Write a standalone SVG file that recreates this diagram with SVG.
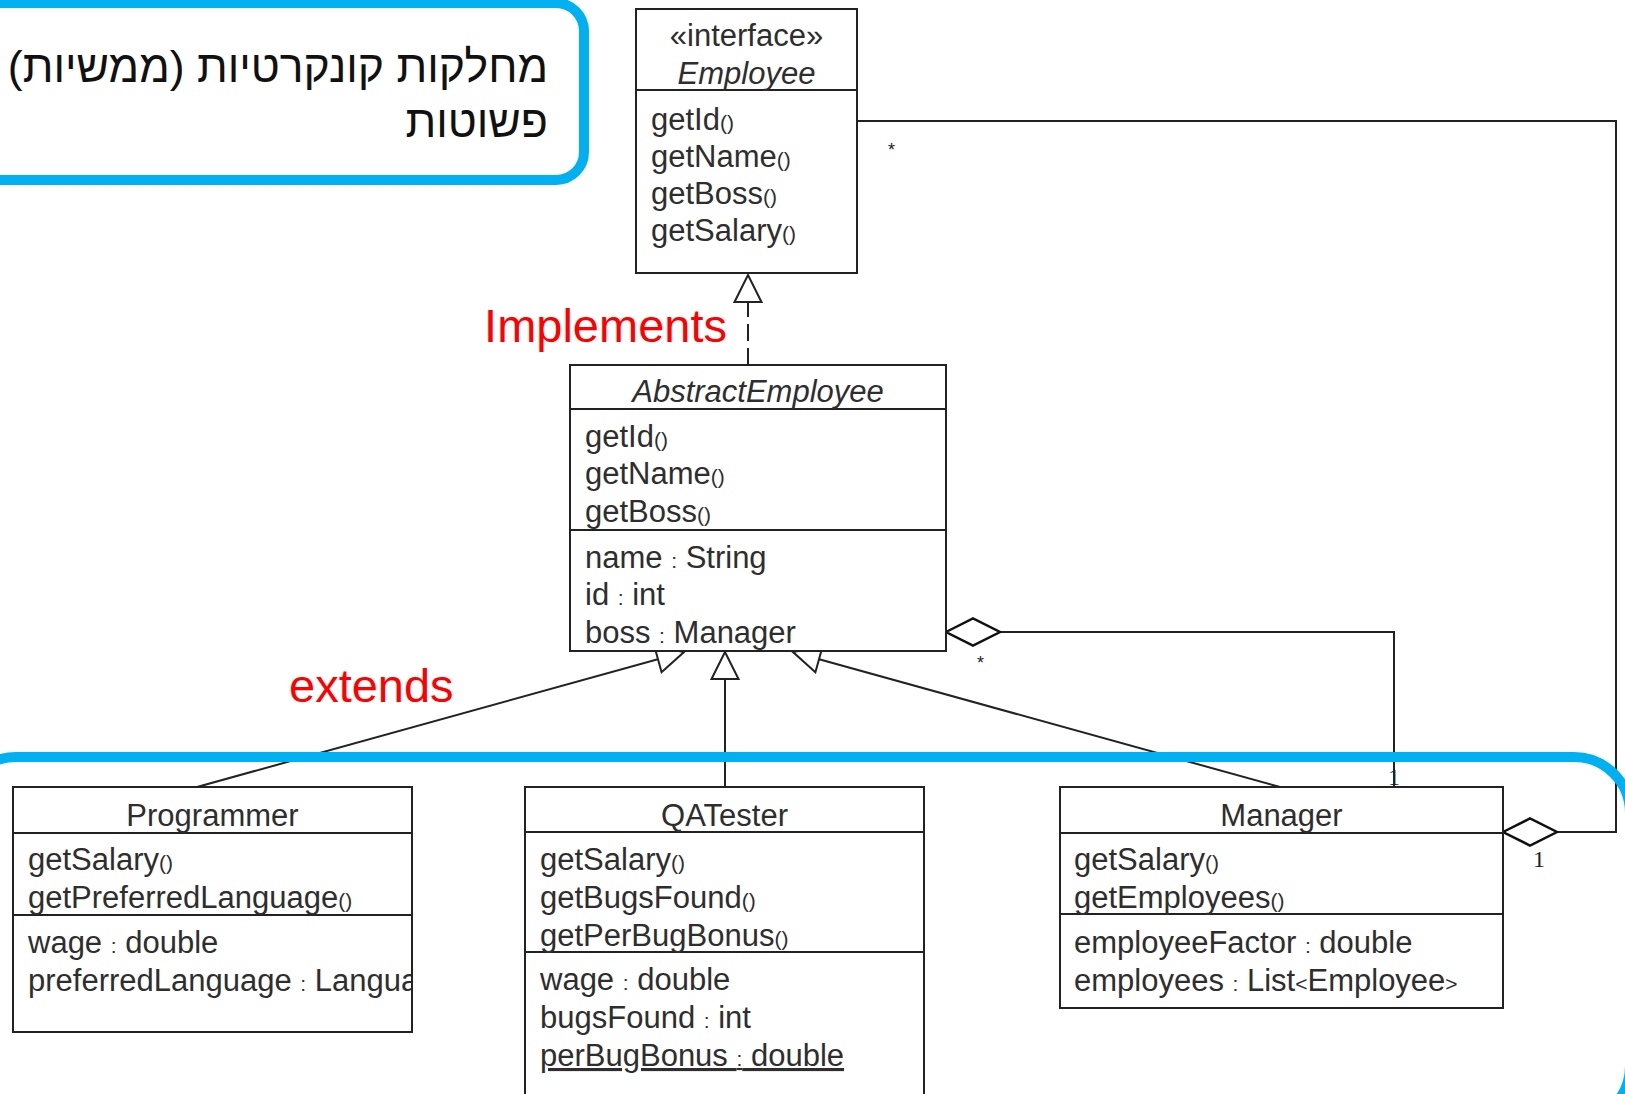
<svg xmlns="http://www.w3.org/2000/svg" width="1625" height="1094" viewBox="0 0 1625 1094">
<style>
  .box{fill:#fff;stroke:#222;stroke-width:2}
  .div{stroke:#222;stroke-width:2}
  .t{font-family:"Liberation Sans",Arial,sans-serif;font-size:31px;fill:#2e2e2e}
  .it{font-style:italic}
  .c{text-anchor:middle}
  .s{font-size:21px}
  .con{fill:none;stroke:#222;stroke-width:2}
  .red{font-family:"Liberation Sans",Arial,sans-serif;font-size:47px;fill:#ff0000}
  .blue{fill:none;stroke:#00B0F0;stroke-width:10}
  .heb{font-family:"Liberation Sans","DejaVu Sans",sans-serif;font-size:44.5px;fill:#111}
  .mult{font-family:"Liberation Serif",serif;font-size:24px;fill:#222}
  .star{font-family:"Liberation Sans",sans-serif;font-size:18px;fill:#222}
</style>
<defs>
  <marker id="tri" markerUnits="userSpaceOnUse" markerWidth="30" markerHeight="30" refX="27" refY="13.5" orient="auto" overflow="visible">
    <path d="M0,0 L27,13.5 L0,27 Z" fill="#fff" stroke="#222" stroke-width="2" stroke-dasharray="none"/>
  </marker>
  <marker id="dia" markerUnits="userSpaceOnUse" markerWidth="56" markerHeight="30" refX="0" refY="13.5" orient="auto" overflow="visible">
    <path d="M0,13.5 L27,0 L54,13.5 L27,27 Z" fill="#fff" stroke="#111" stroke-width="2.5"/>
  </marker>
  <clipPath id="clipProg"><rect x="13" y="787" width="398" height="245"/></clipPath>
</defs>

<g id="connectors">
  <path id="implements" class="con" d="M748,365 L748,275" stroke-dasharray="17,7" marker-end="url(#tri)"/>
  <path id="gen-programmer" class="con" d="M197,787 L684,652" marker-end="url(#tri)"/>
  <path id="gen-qatester" class="con" d="M725,787 L725,652" marker-end="url(#tri)"/>
  <path id="gen-manager" class="con" d="M1280,787 L793,652" marker-end="url(#tri)"/>
  <path id="assoc-boss" class="con" d="M946,632 L1394,632 L1394,787" marker-start="url(#dia)"/>
  <path id="assoc-employees" class="con" d="M1503,832 L1616,832 L1616,121 L857,121" marker-start="url(#dia)"/>
  <text class="star" x="888" y="156">*</text>
  <text class="star" x="977" y="669">*</text>
  <text class="mult" x="1394" y="785" text-anchor="middle">1</text>
  <text class="mult" x="1539" y="867" text-anchor="middle">1</text>
</g>

<g id="Employee">
  <rect class="box" x="636" y="9" width="221" height="264"/>
  <line class="div" x1="636" y1="90" x2="857" y2="90"/>
  <text class="t c" x="746.5" y="46">«interface»</text>
  <text class="t c it" x="746.5" y="84">Employee</text>
  <text class="t" x="651" y="130">getId<tspan class="s">()</tspan></text>
  <text class="t" x="651" y="167">getName<tspan class="s">()</tspan></text>
  <text class="t" x="651" y="204">getBoss<tspan class="s">()</tspan></text>
  <text class="t" x="651" y="241">getSalary<tspan class="s">()</tspan></text>
</g>

<g id="AbstractEmployee">
  <rect class="box" x="570" y="365" width="376" height="286"/>
  <line class="div" x1="570" y1="409" x2="946" y2="409"/>
  <line class="div" x1="570" y1="530" x2="946" y2="530"/>
  <text class="t c it" x="758" y="402">AbstractEmployee</text>
  <text class="t" x="585" y="447">getId<tspan class="s">()</tspan></text>
  <text class="t" x="585" y="484">getName<tspan class="s">()</tspan></text>
  <text class="t" x="585" y="522">getBoss<tspan class="s">()</tspan></text>
  <text class="t" x="585" y="568">name <tspan class="s">:</tspan> String</text>
  <text class="t" x="585" y="605">id <tspan class="s">:</tspan> int</text>
  <text class="t" x="585" y="643">boss <tspan class="s">:</tspan> Manager</text>
</g>

<g id="Programmer">
  <rect class="box" x="13" y="787" width="399" height="245"/>
  <line class="div" x1="13" y1="833" x2="412" y2="833"/>
  <line class="div" x1="13" y1="915" x2="412" y2="915"/>
  <text class="t c" x="212.5" y="826">Programmer</text>
  <text class="t" x="28" y="870">getSalary<tspan class="s">()</tspan></text>
  <text class="t" x="28" y="908">getPreferredLanguage<tspan class="s">()</tspan></text>
  <text class="t" x="28" y="953">wage <tspan class="s">:</tspan> double</text>
  <text class="t" x="28" y="991" clip-path="url(#clipProg)">preferredLanguage <tspan class="s">:</tspan> Language</text>
</g>

<g id="QATester">
  <rect class="box" x="525" y="787" width="399" height="340"/>
  <line class="div" x1="525" y1="832" x2="924" y2="832"/>
  <line class="div" x1="525" y1="952" x2="924" y2="952"/>
  <text class="t c" x="724.5" y="826">QATester</text>
  <text class="t" x="540" y="870">getSalary<tspan class="s">()</tspan></text>
  <text class="t" x="540" y="908">getBugsFound<tspan class="s">()</tspan></text>
  <text class="t" x="540" y="946">getPerBugBonus<tspan class="s">()</tspan></text>
  <text class="t" x="540" y="990">wage <tspan class="s">:</tspan> double</text>
  <text class="t" x="540" y="1028">bugsFound <tspan class="s">:</tspan> int</text>
  <text class="t" x="540" y="1066" text-decoration="underline">perBugBonus <tspan class="s">:</tspan> double</text>
</g>

<g id="Manager">
  <rect class="box" x="1060" y="787" width="443" height="221"/>
  <line class="div" x1="1060" y1="833" x2="1503" y2="833"/>
  <line class="div" x1="1060" y1="914" x2="1503" y2="914"/>
  <text class="t c" x="1281.5" y="826">Manager</text>
  <text class="t" x="1074" y="870">getSalary<tspan class="s">()</tspan></text>
  <text class="t" x="1074" y="908">getEmployees<tspan class="s">()</tspan></text>
  <text class="t" x="1074" y="953">employeeFactor <tspan class="s">:</tspan> double</text>
  <text class="t" x="1074" y="991">employees <tspan class="s">:</tspan> List<tspan class="s">&lt;</tspan>Employee<tspan class="s">&gt;</tspan></text>
</g>

<g id="labels">
  <text class="red" x="727" y="342" text-anchor="end">Implements</text>
  <text class="red" x="289" y="702">extends</text>
</g>

<g id="callout-top">
  <rect class="blue" x="-40" y="3" width="624" height="177" rx="28"/>
  <text class="heb" x="548" y="82" direction="rtl" text-anchor="start">מחלקות קונקרטיות (ממשיות)</text>
  <text class="heb" x="548" y="137" direction="rtl" text-anchor="start">פשוטות</text>
</g>

<g id="callout-bottom">
  <rect class="blue" x="-40" y="757" width="1670" height="365" rx="56"/>
</g>
</svg>
